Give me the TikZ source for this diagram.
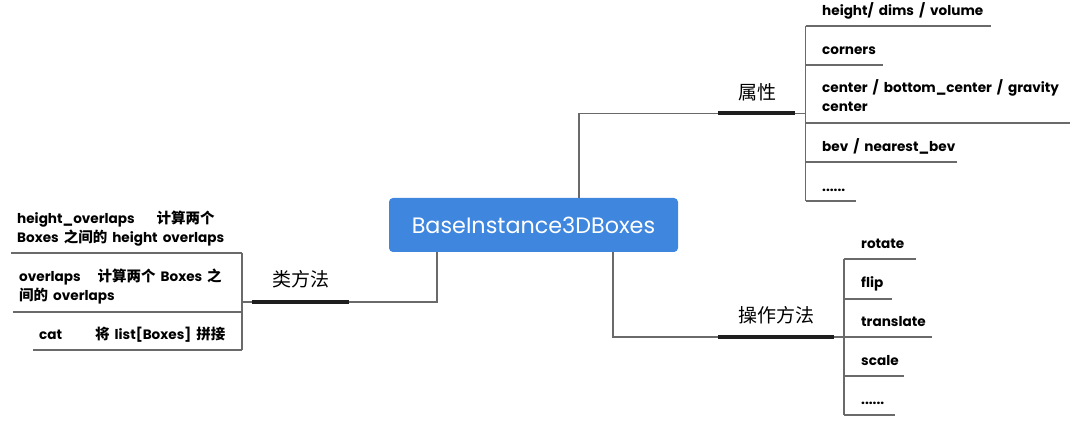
\documentclass[tikz,border=0pt]{standalone}
\usepackage{fontspec}
\setmainfont{Poppins}
\newfontfamily\cjk{Noto Sans CJK SC}
\definecolor{boxblue}{HTML}{3F86DE}
\definecolor{linegray}{HTML}{6A6A6A}
\definecolor{bardark}{HTML}{1E1E1E}
\newcommand{\zh}[1]{{\cjk\fontsize{14.5}{19}\selectfont #1}}
\newcommand{\widespace}{\spaceskip=5pt plus 1pt\relax}
\tikzset{
  root/.style={fill=boxblue, rounded corners=4pt, minimum width=289pt, minimum height=54pt,
    text=white, font=\fontsize{22.3}{26}\selectfont, inner sep=0pt},
  conn/.style={draw=linegray, line width=1.1pt},
  bar/.style={draw=bardark, line width=4pt},
  branch/.style={font=\cjk\fontsize{19}{22}\selectfont, text=black, inner sep=0pt},
  item/.style={anchor=base west, font=\bfseries\fontsize{13.6}{19}\selectfont, align=left, inner sep=0pt, text=black},
}
\begin{document}
\begin{tikzpicture}[x=1pt,y=-1pt]
\useasboundingbox (0,0) rectangle (1080,427);

\node[root] (root) at (533.5,225) {BaseInstance3DBoxes};

% ---------- 属性 ----------
\coordinate (attrL) at (718,113.5);
\coordinate (attrR) at (795,113.5);
\coordinate (attrV) at (805.5,113.5);
\coordinate (attrT) at (805.5,26);
\coordinate (attrB) at (805.5,201);
\node[branch] (attr) at (757,92) {属性};
\draw[conn] ([xshift=45.5pt]root.north) |- (attrV);
\draw[bar] (attrL) -- (attrR);
\draw[conn] (attrT) -- (attrB);

\node[item] (a1) at (822,16) {\widespace height/ dims / volume};
\node[item] (a2) at (822,55) {corners};
\node[item] (a3) at (822,112) {\widespace center / bottom\_center / gravity\\center};
\node[item] (a4) at (822,152) {\widespace bev / nearest\_bev};
\node[item] (a5) at (822,192) {......};
\coordinate (a1e) at (991,26);
\coordinate (a2e) at (883,65);
\coordinate (a3e) at (1070,123);
\coordinate (a4e) at (957,162);
\coordinate (a5e) at (856,201);
\draw[conn] (attrT) -- (a1e);
\draw[conn] (a2e -| attrT) -- (a2e);
\draw[conn] (a3e -| attrT) -- (a3e);
\draw[conn] (a4e -| attrT) -- (a4e);
\draw[conn] (attrB) -- (a5e);

% ---------- 操作方法 ----------
\coordinate (opsL) at (718,337);
\coordinate (opsR) at (834,337);
\coordinate (opsV) at (844,337);
\coordinate (opsT) at (844,259);
\coordinate (opsB) at (844,415);
\node[branch] (ops) at (776,315) {操作方法};
\draw[conn] ([xshift=79.5pt]root.south) |- (opsV);
\draw[bar] (opsL) -- (opsR);
\draw[conn] (opsT) -- (opsB);

\node[item] (o1) at (861,249) {rotate};
\node[item] (o2) at (861,288) {flip};
\node[item] (o3) at (861,327) {translate};
\node[item] (o4) at (861,366) {scale};
\node[item] (o5) at (861,405) {......};
\coordinate (o1e) at (916,259);
\coordinate (o2e) at (892,299);
\coordinate (o3e) at (932,337);
\coordinate (o4e) at (904,376);
\coordinate (o5e) at (895,415);
\draw[conn] (opsT) -- (o1e);
\draw[conn] (o2e -| opsT) -- (o2e);
\draw[conn] (o3e -| opsT) -- (o3e);
\draw[conn] (o4e -| opsT) -- (o4e);
\draw[conn] (opsB) -- (o5e);

% ---------- 类方法 ----------
\coordinate (clsL) at (252,302);
\coordinate (clsR) at (349,302);
\coordinate (clsV) at (242,302);
\coordinate (clsT) at (242,253);
\coordinate (clsB) at (242,350);
\node[branch] (cls) at (300.5,279) {类方法};
\draw[conn] ([xshift=-96.5pt]root.south) |- (clsV);
\draw[bar] (clsL) -- (clsR);
\draw[conn] (clsT) -- (clsB);

\node[item] (c1) at (17,243) {\widespace height\_overlaps\hspace*{22pt}\zh{计算两个}\\\widespace Boxes \zh{之间的} height overlaps};
\node[item] (c2) at (19,301) {\widespace overlaps\hspace*{17pt}\zh{计算两个} Boxes \zh{之}\\\widespace\zh{间的} overlaps};
\node[item] (c3) at (39,340) {\widespace cat\hspace*{33pt}\zh{将} list[Boxes] \zh{拼接}};
\coordinate (c1e) at (11,253);
\coordinate (c2e) at (13,312);
\coordinate (c3e) at (33,350);
\draw[conn] (clsT) -- (c1e);
\draw[conn] (c2e -| clsT) -- (c2e);
\draw[conn] (clsB) -- (c3e);
\end{tikzpicture}
\end{document}
